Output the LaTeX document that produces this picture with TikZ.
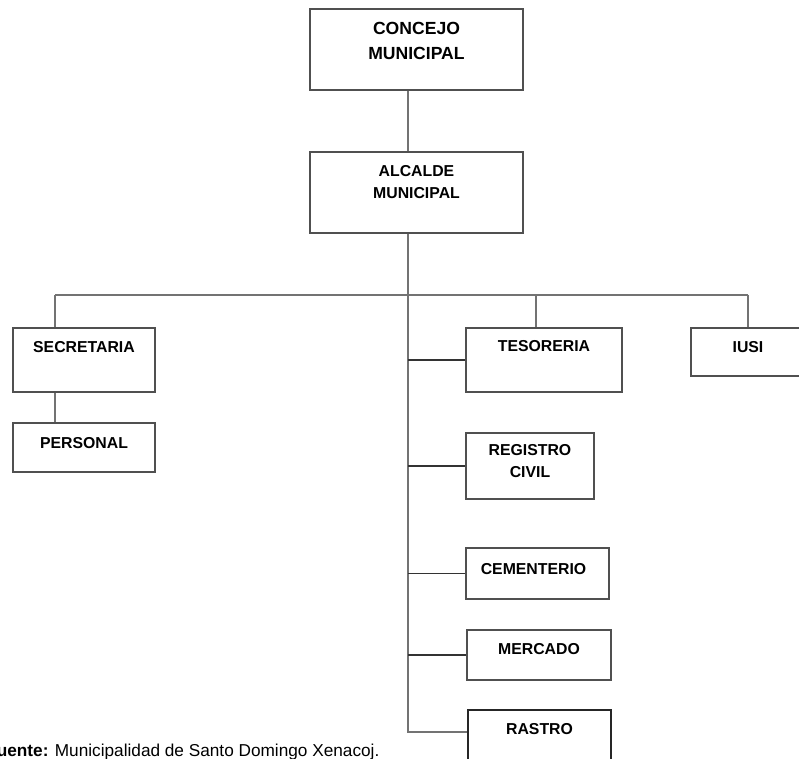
\documentclass[tikz,border=0pt]{standalone}
\usepackage{fontspec}
\setmainfont{Liberation Sans}
\usetikzlibrary{fit}
\definecolor{gris}{gray}{0.45}
\newcommand\grande[0]{\fontsize{10}{14.2}\selectfont\bfseries}
\newcommand\chica[0]{\fontsize{9}{12.3}\selectfont\bfseries}

\begin{document}
\begin{tikzpicture}[x=0.02cm, y=-0.02cm,
  caja/.style={draw=gris!70!black, line width=.75pt, inner sep=0pt},
  texto/.style={anchor=north, inner sep=0pt, align=center, font=\chica, yshift=-0.28cm},
  linea/.style={draw=gris, line width=.8pt},
  ramal/.style={draw=black!80, line width=.6pt}]

\useasboundingbox (0,0) rectangle (799,759);
\clip (0,0) rectangle (799,759);

\coordinate (eje) at (408,295);
\coordinate (barraizq) at (55,295);
\coordinate (barrateso) at (536,295);
\coordinate (barrader) at (748,295);
\coordinate (fin) at (408,732);

\node[caja, fit={(310,9) (523,90)}, label={[texto, font=\grande]north:{CONCEJO\\MUNICIPAL}}] (concejo) {};
\node[caja, fit={(310,152) (523,233)}, label={[texto]north:{ALCALDE\\MUNICIPAL}}] (alcalde) {};
\node[caja, fit={(13,328) (155,392)}, label={[texto]north:SECRETARIA}] (secretaria) {};
\node[caja, fit={(13,423) (155,472)}, label={[texto, yshift=-0.02cm]north:PERSONAL}] (personal) {};
\node[caja, fit={(466,328) (622,392)}, label={[texto, yshift=0.02cm]north:TESORERIA}] (tesoreria) {};
\node[caja, fit={(691,328) (805,376)}, label={[texto]north:IUSI}] (iusi) {};
\node[caja, fit={(466,433) (594,499)}, label={[texto, yshift=0.04cm]north:{REGISTRO\\CIVIL}}] (registro) {};
\node[caja, fit={(466,548) (609,599)}, label={[texto, yshift=-0.04cm, xshift=-0.08cm]north:CEMENTERIO}] (cementerio) {};
\node[caja, fit={(467,630) (611,680)}, label={[texto]north:MERCADO}] (mercado) {};
\node[caja, draw=black!85, fit={(468,710) (611,780)}, label={[texto]north:RASTRO}] (rastro) {};

\node[anchor=base west, inner sep=0pt, font=\fontsize{9.8}{12}\selectfont] (fuente) at (-14,757) {\textbf{Fuente:} Municipalidad de Santo Domingo Xenacoj.};

% lineas de mando
\draw[linea] (concejo.south -| eje) -- (alcalde.north -| eje);
\draw[linea] (alcalde.south -| eje) -- (fin) -- (fin -| rastro.west);
\draw[linea] (barraizq) -- (barrader);
\draw[linea] (barraizq) -- (barraizq |- secretaria.north);
\draw[linea] (secretaria.south -| barraizq) -- (personal.north -| barraizq);
\draw[linea] (barrateso) -- (barrateso |- tesoreria.north);
\draw[linea] (barrader) -- (barrader |- iusi.north);

\foreach \dep in {tesoreria, registro, cementerio, mercado}
  \draw[ramal] (\dep.west -| eje) -- (\dep.west);

\end{tikzpicture}
\end{document}
